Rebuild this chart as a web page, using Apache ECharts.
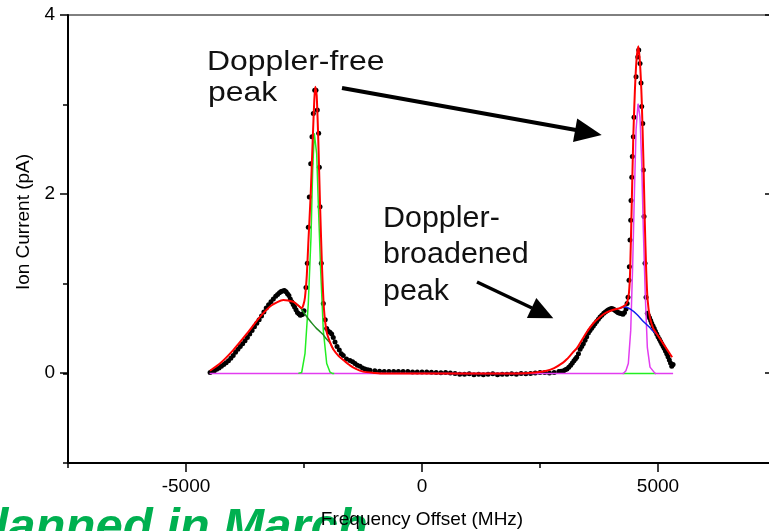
<!DOCTYPE html>
<html>
<head>
<meta charset="utf-8">
<script src="https://cdn.jsdelivr.net/npm/echarts@6/dist/echarts.min.js"></script>
<style>
html,body{margin:0;padding:0;background:#fff;}
#c{width:769px;height:531px;}
</style>
</head>
<body>
<div id="c"></div>
<script>
// ---- measured data (Frequency offset in MHz, ion current in pA) ----
const dataX = [-4490,-4445,-4400,-4350,-4300,-4250,-4200,-4150,-4100,-4050,-4000,-3950,-3900,-3850,-3800,-3750,-3700,-3650,-3600,-3550,-3500,-3450,-3400,-3350,-3300,-3250,-3200,-3150,-3100,-3060,-3020,-2985,-2950,-2915,-2880,-2850,-2820,-2790,-2760,-2730,-2700,-2670,-2640,-2610,-2580,-2555,-2530,-2500,
 -2458,-2430,-2409,-2388,-2358,-2331,-2303,-2273,-2246,-2218,-2189,-2175,-2161,-2134,-2091,-2050,-2019,-1985,-1950,-1913,-1880,-1843,-1800,-1752,-1710,-1668,-1600,-1526,-1470,-1420,-1370,-1314,-1260,-1208,-1150,-1102,
 -1000,-900,-800,-700,-600,-500,-400,-300,-200,-100,0,100,200,300,400,500,600,700,800,900,1000,1100,1200,1300,1400,1500,1600,1700,1800,1900,2000,2100,2200,2300,2400,2500,2600,2700,2800,2900,
 2950,3000,3036,3072,3110,3150,3185,3220,3250,3278,3315,3350,3385,3418,3455,3490,3525,3560,3595,3630,3665,3700,3736,3772,3810,3850,3885,3920,3950,3984,4017,4050,4075,4100,4125,4150,4175,4200,4230,4259,4290,4323,4345,4365,
 4386,4393,4407,4422,4428,4444,4456,4477,4492,4535,4571,4592,4619,4640,4655,4677,4689,4704,4725,4747,
 4774,4797,4820,4845,4867,4895,4920,4945,4973,5000,5030,5055,5079,5105,5130,5158,5185,5212,5240,5265,5291,5320];
const dataY = [0.01,0.02,0.03,0.045,0.06,0.08,0.10,0.12,0.14,0.17,0.20,0.235,0.27,0.30,0.33,0.365,0.40,0.44,0.48,0.52,0.56,0.60,0.64,0.685,0.73,0.765,0.80,0.83,0.86,0.88,0.90,0.915,0.92,0.925,0.91,0.89,0.87,0.83,0.80,0.77,0.74,0.71,0.68,0.665,0.65,0.655,0.66,0.70,
 0.96,1.23,1.63,1.97,2.34,2.64,2.90,3.16,3.16,2.94,2.68,2.30,1.86,1.23,0.78,0.60,0.50,0.47,0.46,0.44,0.40,0.35,0.30,0.26,0.22,0.20,0.16,0.145,0.13,0.11,0.09,0.08,0.06,0.05,0.04,0.035,
 0.03,0.025,0.02,0.02,0.02,0.02,0.02,0.02,0.015,0.015,0.015,0.015,0.012,0.01,0.008,0.01,0.005,0,-0.01,-0.01,-0.005,-0.015,-0.01,-0.015,-0.01,-0.005,-0.015,-0.01,-0.01,-0.005,-0.01,0,-0.005,0,0.005,0.01,0.01,0.005,0.01,0.02,
 0.025,0.03,0.04,0.05,0.07,0.09,0.115,0.14,0.16,0.18,0.22,0.27,0.30,0.33,0.37,0.41,0.45,0.48,0.505,0.53,0.555,0.58,0.605,0.63,0.65,0.67,0.685,0.70,0.71,0.72,0.725,0.72,0.71,0.70,0.69,0.68,0.675,0.67,0.665,0.66,0.68,0.72,0.78,0.85,
 1.04,1.19,1.49,1.71,1.93,2.19,2.42,2.64,2.86,3.31,3.53,3.61,3.46,3.24,2.98,2.79,2.27,1.75,1.23,0.85,
 0.67,0.645,0.62,0.59,0.56,0.53,0.50,0.47,0.44,0.41,0.38,0.355,0.33,0.305,0.28,0.25,0.22,0.185,0.15,0.115,0.08,0.10];

const fitX = [-4492,-4280,-3999,-3715,-3433,-3185,-2939,-2727,-2650,-2585,-2549,-2510,-2479,-2440,-2409,-2358,-2316,-2282,-2261,-2231,-2197,-2161,-2119,-2077,-2019,-1950,-1880,-1760,-1668,-1526,-1400,-1250,-1000,-890,0,1000,2000,2400,2642,2800,2988,3072,3206,3278,3350,3490,3630,3772,3910,4054,4200,4302,4350,4385,4410,4444,4477,4510,4545,4583,4620,4655,4690,4720,4750,4780,4830,4900,4950,5000,5113,5200,5300];
const fitY = [0.03,0.11,0.26,0.44,0.63,0.76,0.82,0.80,0.77,0.74,0.73,0.77,0.85,1.10,1.45,2.00,2.60,3.05,3.20,3.10,2.60,1.90,1.20,0.72,0.46,0.35,0.27,0.19,0.15,0.09,0.05,0.02,0.005,0,0,0,0,0.01,0.03,0.06,0.12,0.16,0.24,0.28,0.34,0.46,0.56,0.63,0.68,0.71,0.73,0.76,0.80,0.90,1.15,1.90,2.65,3.15,3.50,3.65,3.45,3.05,2.40,1.70,1.15,0.82,0.62,0.50,0.46,0.42,0.33,0.26,0.18];

// narrow (Doppler-free) component of the left peak
const narrowLeftX = [-2620,-2585,-2549,-2479,-2409,-2352,-2316,-2282,-2267,-2231,-2197,-2147,-2091,-2019,-1950,-1900,-1860];
const narrowLeftY = [0,0,0.01,0.22,0.78,1.52,2.27,2.68,2.70,2.45,1.90,1.15,0.48,0.11,0.015,0,0];
// same component, its zero level seen under the right narrow peak
const narrowLeftBaseX = [4250, 4960];
const narrowLeftBaseY = [0, 0];

// narrow (Doppler-free) component of the right peak
const narrowRightX = [-4500,4200,4266,4320,4371,4422,4464,4498,4535,4577,4619,4655,4689,4732,4774,4831,4937,5000,5320];
const narrowRightY = [0,0,0,0.03,0.11,0.48,1.22,1.97,2.72,3.01,2.86,2.34,1.60,0.85,0.29,0.07,0,0,0];

const broadLeftX = [-2727,-2650,-2585,-2549,-2479,-2409,-2316,-2231,-2147,-2091,-2019,-1950,-1880];
const broadLeftY = [0.80,0.77,0.74,0.715,0.66,0.61,0.55,0.50,0.46,0.43,0.38,0.34,0.27];

const broadRightX = [4200,4302,4407,4549,4689,4831,4900,4950,5000];
const broadRightY = [0.73,0.74,0.72,0.66,0.58,0.51,0.47,0.45,0.42];

const xTickLabels = [-5000, 0, 5000];
const yTickLabels = [0, 2, 4];

const xTitle = 'Frequency Offset (MHz)';
const yTitle = 'Ion Current (pA)';

function pairs(xs, ys){ return xs.map((x,i)=>[x, ys[i]]); }

const FONT = '"Liberation Sans", Arial, Helvetica, sans-serif';
const chart = echarts.init(document.getElementById('c'), null, {renderer:'canvas'});

const line = (name, xs, ys, color, width, z, smooth) => ({
  name, type:'line', xAxisIndex:0, yAxisIndex:0, data:pairs(xs, ys),
  showSymbol:false, smooth: smooth, z: z,
  lineStyle:{color, width}, itemStyle:{color}, silent:true
});

chart.setOption({
  animation:false,
  backgroundColor:'#fff',
  grid:[
    {left:68, top:15, width:708, height:448, outerBoundsMode:'none', containLabel:false,
     show:true, borderColor:'#000', borderWidth:1, backgroundColor:'transparent'},
    {left:68, top:15, width:708, height:358, outerBoundsMode:'none', containLabel:false},
    {left:186, top:15, width:472, height:448, outerBoundsMode:'none', containLabel:false}
  ],
  xAxis:[
    {gridIndex:0, type:'value', min:-7500, max:7500, interval:2500,
     axisLine:{show:true, onZero:false, lineStyle:{color:'#000', width:2}},
     axisTick:{show:true, inside:false, length:5, lineStyle:{color:'#000', width:1.5}},
     axisLabel:{show:false}, splitLine:{show:false}},
    {gridIndex:1, type:'value', min:-7500, max:7500, show:false},
    {gridIndex:2, type:'value', min:-5000, max:5000, interval:5000,
     axisLine:{show:false, onZero:false},
     axisTick:{show:true, inside:false, length:9, lineStyle:{color:'#000', width:1.5}},
     axisLabel:{show:true, color:'#000', fontSize:19, fontFamily:FONT, margin:14,
       formatter:v => xTickLabels.indexOf(v) >= 0 ? String(v) : ''},
     splitLine:{show:false},
     name:xTitle, nameLocation:'middle', nameGap:47,
     nameTextStyle:{color:'#000', fontSize:19, fontFamily:FONT}}
  ],
  yAxis:[
    {gridIndex:0, type:'value', min:-1, max:4, interval:1,
     axisLine:{show:true, onZero:false, lineStyle:{color:'#000', width:2}},
     axisTick:{show:true, inside:false, length:5, lineStyle:{color:'#000', width:1.5}},
     axisLabel:{show:false}, splitLine:{show:false}},
    {gridIndex:1, type:'value', min:0, max:4, interval:2, position:'left',
     axisLine:{show:false, onZero:false},
     axisTick:{show:true, inside:false, length:8, lineStyle:{color:'#000', width:1.5}},
     axisLabel:{show:true, color:'#000', fontSize:19, fontFamily:FONT, margin:13,
       formatter:v => yTickLabels.indexOf(v) >= 0 ? String(v) : ''},
     splitLine:{show:false}},
    {gridIndex:1, type:'value', min:0, max:4, interval:2, position:'right',
     axisLine:{show:false, onZero:false},
     axisTick:{show:true, inside:true, length:11, lineStyle:{color:'#000', width:1.5}},
     axisLabel:{show:false}, splitLine:{show:false}},
    {gridIndex:2, type:'value', min:-1, max:4, show:false}
  ],
  series:[
    {name:'data', type:'scatter', xAxisIndex:0, yAxisIndex:0, data:pairs(dataX, dataY),
     symbol:'circle', symbolSize:5, itemStyle:{color:'#000', opacity:1}, z:2, silent:true},
    line('narrow-left', narrowLeftX, narrowLeftY, '#22ee22', 1.5, 4, false),
    line('narrow-left-base', narrowLeftBaseX, narrowLeftBaseY, '#22ee22', 1.5, 3, false),
    line('narrow-right', narrowRightX, narrowRightY, '#e23cf0', 1.5, 3.5, false),
    line('broad-left', broadLeftX, broadLeftY, '#1f8a1f', 1.5, 5, 0.3),
    line('broad-right', broadRightX, broadRightY, '#1020ee', 1.5, 5, 0.3),
    line('fit', fitX, fitY, '#ff0000', 2, 6, 0.2)
  ],
  graphic:[
    {type:'text', z:-5, style:{text:'Planned in March', x:-38, y:528, verticalAlign:'middle', align:'left',
      font:'italic bold 49px ' + FONT, fill:'#00b050'}},
    {type:'text', z:10, rotation:Math.PI/2, x:24, y:222,
      style:{text:yTitle, align:'center', verticalAlign:'middle', font:'19px ' + FONT, fill:'#000'}},
    {type:'text', z:10, x:207, y:62, scaleX:1.14, style:{text:'Doppler-free', x:0, y:0, verticalAlign:'middle', font:'28px ' + FONT, fill:'#111'}},
    {type:'text', z:10, x:208, y:93, scaleX:1.14, style:{text:'peak', x:0, y:0, verticalAlign:'middle', font:'28px ' + FONT, fill:'#111'}},
    {type:'text', z:10, x:383, y:219, scaleX:1.05, style:{text:'Doppler-', x:0, y:0, verticalAlign:'middle', font:'29px ' + FONT, fill:'#111'}},
    {type:'text', z:10, x:383, y:255, scaleX:1.05, style:{text:'broadened', x:0, y:0, verticalAlign:'middle', font:'29px ' + FONT, fill:'#111'}},
    {type:'text', z:10, x:383, y:292, scaleX:1.05, style:{text:'peak', x:0, y:0, verticalAlign:'middle', font:'29px ' + FONT, fill:'#111'}},
    {type:'line', z:10, shape:{x1:342, y1:88, x2:576, y2:130}, style:{stroke:'#000', lineWidth:4}},
    {type:'polygon', z:10, shape:{points:[[601.7,135],[573.0,142.0],[577.2,118.4]]}, style:{fill:'#000'}},
    {type:'line', z:10, shape:{x1:477, y1:282, x2:532, y2:308}, style:{stroke:'#000', lineWidth:3.5}},
    {type:'polygon', z:10, shape:{points:[[553.3,318.3],[526.9,318.1],[536.3,298.1]]}, style:{fill:'#000'}}
  ]
});
</script>
</body>
</html>
